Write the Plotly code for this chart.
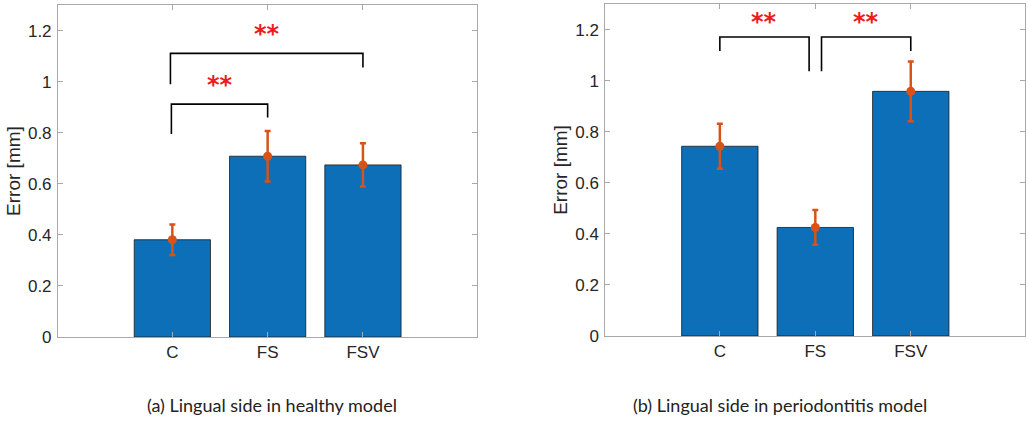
import plotly.graph_objects as go

categories = ["C", "FS", "FSV"]
x_pos = [1, 2, 3]

# Panel (a): lingual side, healthy model
healthy_mean = [0.381, 0.708, 0.674]
healthy_err = [0.060, 0.099, 0.085]

# Panel (b): lingual side, periodontitis model
perio_mean = [0.743, 0.425, 0.958]
perio_err = [0.088, 0.068, 0.117]

# Significance brackets: (x_left, x_right, y_bar, y_left_end, y_right_end, label_y)
healthy_brackets = [
    (0.99, 2.0, 0.912, 0.795, 0.860, 1.00),
    (0.98, 3.0, 1.111, 0.990, 1.056, 1.20),
]
perio_brackets = [
    (1.0, 1.935, 1.171, 1.116, 1.037, 1.24),
    (2.065, 3.0, 1.171, 1.037, 1.116, 1.24),
]
sig_label = "<b>**</b>"

captions = ["(a) Lingual side in healthy model", "(b) Lingual side in periodontitis model"]
y_ticks = [0, 0.2, 0.4, 0.6, 0.8, 1.0, 1.2]
y_tick_text = ["0", "0.2", "0.4", "0.6", "0.8", "1", "1.2"]

BAR = "#0C6FB8"
ERR = "#D95319"
AX = "#A8A8A8"
TXT = "#262626"
SANS = "Liberation Sans"

fig = go.Figure()

panels = [
    ("x", "y", healthy_mean, healthy_err, healthy_brackets),
    ("x2", "y2", perio_mean, perio_err, perio_brackets),
]

for xa, ya, means, errs, brackets in panels:
    fig.add_trace(go.Bar(
        x=x_pos, y=means, width=0.8, xaxis=xa, yaxis=ya,
        marker=dict(color=BAR, line=dict(color="#1A1A1A", width=0.8)),
        showlegend=False, hoverinfo="skip",
    ))
    fig.add_trace(go.Scatter(
        x=x_pos, y=means, mode="markers", xaxis=xa, yaxis=ya,
        marker=dict(color=ERR, size=9, symbol="circle"),
        error_y=dict(type="data", array=errs, visible=True, color=ERR, thickness=2.5, width=3),
        showlegend=False, hoverinfo="skip",
    ))
    for (xl, xr, yb, yl, yr, ly) in brackets:
        fig.add_trace(go.Scatter(
            x=[xl, xl, xr, xr], y=[yl, yb, yb, yr], mode="lines",
            xaxis=xa, yaxis=ya, line=dict(color="black", width=1.6),
            showlegend=False, hoverinfo="skip",
        ))
        fig.add_annotation(
            x=(xl + xr) / 2, y=ly, xref=xa, yref=ya, text=sig_label,
            showarrow=False, font=dict(family="DejaVu Sans", size=24, color="#EE1C1C"),
            yanchor="middle", xanchor="center", yshift=-3,
        )

axis_common = dict(
    showline=True, linecolor=AX, linewidth=1, mirror="ticks",
    ticks="inside", ticklen=5, tickcolor=AX, tickwidth=1,
    showgrid=False, zeroline=False, automargin=False,
    tickfont=dict(family=SANS, size=17, color=TXT),
)
title_font = dict(family=SANS, size=19, color=TXT)

fig.update_layout(
    width=1028, height=423,
    margin=dict(l=0, r=0, t=0, b=0),
    font=dict(family=SANS),
    paper_bgcolor="white", plot_bgcolor="white",
    xaxis=dict(domain=[0.0564, 0.4643], range=[-0.2, 4.2], tickvals=x_pos, ticktext=categories,
               anchor="y", **axis_common),
    yaxis=dict(domain=[0.2033, 0.988], range=[0, 1.3], tickvals=y_ticks, ticktext=y_tick_text,
               anchor="x", ticklabelstandoff=2,
               title=dict(text="Error [mm]", font=title_font, standoff=2),
               **axis_common),
    xaxis2=dict(domain=[0.5888, 0.9974], range=[-0.2, 4.2], tickvals=x_pos, ticktext=categories,
                anchor="y2", **axis_common),
    yaxis2=dict(domain=[0.2057, 0.9905], range=[0, 1.3], tickvals=y_ticks, ticktext=y_tick_text,
                anchor="x2", ticklabelstandoff=2,
                title=dict(text="Error [mm]", font=title_font, standoff=2),
                **axis_common),
)

for cx, cap in zip([272 / 1028, 780 / 1028], captions):
    fig.add_annotation(
        x=cx, y=1 - 405 / 423, xref="paper", yref="paper", text=cap, showarrow=False,
        font=dict(family="Lato", size=18, color="#222222"), xanchor="center", yanchor="middle",
    )

fig.write_html(
    "out.html",
    config={"displayModeBar": False, "staticPlot": True},
    post_script="document.body.style.margin='0';document.body.style.overflow='hidden';",
)
